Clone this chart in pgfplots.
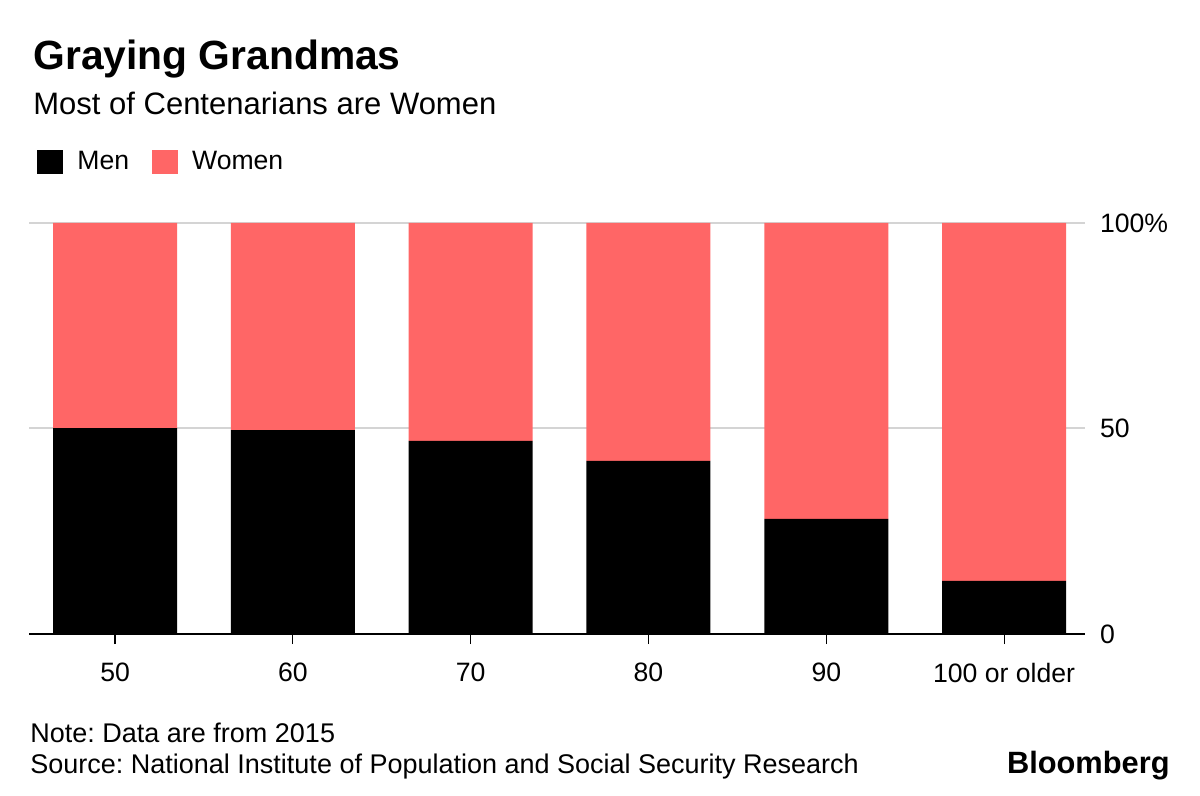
\documentclass[border=0pt]{standalone}
\usepackage{pgfplots}
\pgfplotsset{compat=1.18}
\usepackage{fontspec}
\setmainfont{Liberation Sans}
\frenchspacing
\definecolor{pink}{HTML}{FF6666}
\definecolor{gridgray}{HTML}{D4D4D4}
\pgfplotstableread{
x men women
0 50.1 49.9
1 49.6 50.4
2 47.0 53.0
3 42.1 57.9
4 28.0 72.0
5 12.9 87.1
}\datatable
\begin{document}
\begin{tikzpicture}
\path[fill=white] (0,0) rectangle (600bp,398bp);
\node[anchor=base west, inner sep=0pt, font=\fontsize{20.4bp}{25bp}\selectfont\bfseries] at (16.5bp,363bp) {Graying Grandmas};
\node[anchor=base west, inner sep=0pt, font=\fontsize{15.5bp}{18bp}\selectfont] at (16.5bp,340.5bp) {Most of Centenarians are Women};
\node[anchor=base west, inner sep=0pt, font=\fontsize{13.5bp}{16bp}\selectfont] at (15bp,27bp) {Note: Data are from 2015};
\node[anchor=base west, inner sep=0pt, font=\fontsize{13.5bp}{16bp}\selectfont] at (15bp,11.5bp) {Source: National Institute of Population and Social Security Research};
\node[anchor=base east, inner sep=0pt, font=\fontsize{15.4bp}{18bp}\selectfont\bfseries] at (585bp,11.5bp) {Bloomberg};
\begin{axis}[
  at={(14.5bp,81bp)}, anchor=south west,
  scale only axis, width=528bp, height=205.5bp,
  xmin=-0.484, xmax=5.455, ymin=0, ymax=100,
  ybar stacked, bar width=62bp,
  axis x line*=bottom, axis y line*=right,
  x axis line style={black, line width=1bp, -},
  y axis line style={draw=none},
  xtick={0,1,2,3,4,5},
  xticklabels={50,60,70,80,90,100 or older},
  ytick={0,50,100},
  yticklabels={0,50,100\%},
  ymajorgrids, grid style={gridgray, line width=1bp},
  tick align=outside,
  major tick length=5bp,
  xtick style={black, line width=0.6bp},
  ytick style={draw=none},
  yticklabel pos=right,
  /pgf/number format/assume math mode=true,
  ticklabel style={font=\fontsize{13.3bp}{16bp}\selectfont},
  yticklabel style={anchor=west, xshift=-1bp},
  xticklabel style={anchor=north, inner sep=0pt, yshift=-9.5bp},
  legend style={draw=none, fill=none, at={(0.0076,1.148)}, anchor=west, legend columns=2,
    font=\fontsize{13.3bp}{16bp}\selectfont, inner sep=0pt,
    /tikz/every odd column/.append style={column sep=5bp},
    /tikz/every even column/.append style={column sep=9.5bp}},
  legend image code/.code={\fill[#1] (0bp,-6bp) rectangle (13bp,6bp);},
  legend cell align=left,
]
\addplot[fill=black, draw=none] table[x=x, y=men] {\datatable};
\addplot[fill=pink, draw=none] table[x=x, y=women] {\datatable};
\legend{Men, Women}
\end{axis}
\end{tikzpicture}
\end{document}
